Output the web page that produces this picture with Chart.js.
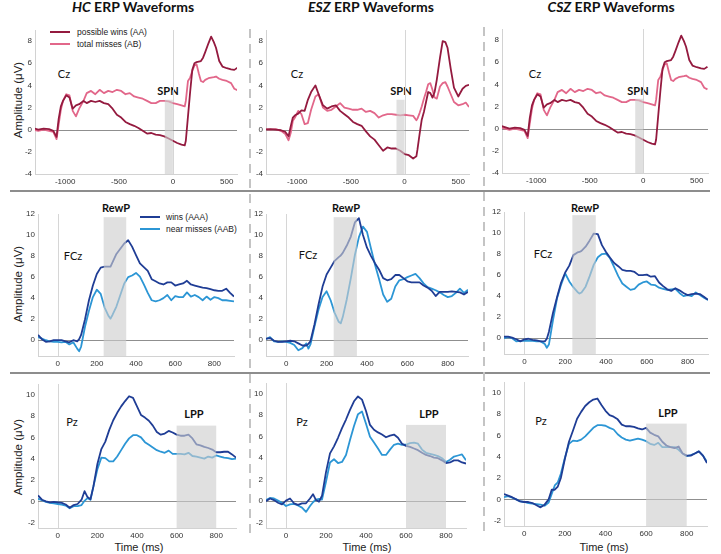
<!DOCTYPE html>
<html>
<head>
<meta charset="utf-8">
<title>ERP Waveforms</title>
<script src="https://cdn.jsdelivr.net/npm/chart.js@4.4.1/dist/chart.umd.min.js"></script>
<style>
  body { margin: 0; background: #fff; }
  #fig { position: relative; width: 721px; height: 554px; overflow: hidden; font-family: "Liberation Sans", Arial, sans-serif; color: #222; }
  #fig canvas { position: absolute; }
  .t { position: absolute; transform: translate(-50%, -50%); white-space: nowrap; }
  .title { font: bold 14px Lato, sans-serif; color: #111; }
  .ann { font: 11px Lato, sans-serif; color: #111; }
  .ylab { font-size: 11.5px; transform: translate(-50%, -50%) rotate(-90deg); }
  .xlab { font-size: 11px; }
  .hsep { position: absolute; left: 10px; width: 700px; height: 2px; background: #8d8d8d; }
  .vsep { position: absolute; width: 2px; background: repeating-linear-gradient(to bottom, #c4c4c4 0 9px, transparent 9px 15px); }
  .legline { position: absolute; width: 20px; height: 2px; }
  .legtxt { position: absolute; font-size: 8.5px; color: #222; transform: translateY(-50%); white-space: nowrap; }
</style>
</head>
<body>
<div id="fig">
  <div class="hsep" style="top:190px"></div>
  <div class="hsep" style="top:372px"></div>
  <div class="vsep" style="left:249px;top:29px;height:505px"></div>
  <div class="vsep" style="left:483px;top:27px;height:507px"></div>

  <div class="t title" style="left:133px;top:6px"><i>HC</i> ERP Waveforms</div>
  <div class="t title" style="left:371px;top:6px"><i>ESZ</i> ERP Waveforms</div>
  <div class="t title" style="left:611px;top:6px"><i>CSZ</i> ERP Waveforms</div>

  <div class="t ylab" style="left:18px;top:100px">Amplitude (μV)</div>
  <div class="t ylab" style="left:18px;top:284px">Amplitude (μV)</div>
  <div class="t ylab" style="left:18px;top:457px">Amplitude (μV)</div>

  <div class="t xlab" style="left:139px;top:547px">Time (ms)</div>
  <div class="t xlab" style="left:367px;top:547px">Time (ms)</div>
  <div class="t xlab" style="left:604px;top:547px">Time (ms)</div>

  <div class="t ann" style="left:64px;top:73px">Cz</div>
  <div class="t ann" style="left:297px;top:73px">Cz</div>
  <div class="t ann" style="left:535px;top:73px">Cz</div>
  <div class="t ann" style="left:168px;top:90px"><b>SPN</b></div>
  <div class="t ann" style="left:401px;top:90px"><b>SPN</b></div>
  <div class="t ann" style="left:638px;top:90px"><b>SPN</b></div>

  <div class="t ann" style="left:73px;top:255px">FCz</div>
  <div class="t ann" style="left:308px;top:254px">FCz</div>
  <div class="t ann" style="left:543px;top:253px">FCz</div>
  <div class="t ann" style="left:116px;top:207px"><b>RewP</b></div>
  <div class="t ann" style="left:346px;top:207px"><b>RewP</b></div>
  <div class="t ann" style="left:585px;top:207px"><b>RewP</b></div>

  <div class="t ann" style="left:72px;top:421px">Pz</div>
  <div class="t ann" style="left:302px;top:421px">Pz</div>
  <div class="t ann" style="left:541px;top:420px">Pz</div>
  <div class="t ann" style="left:194px;top:413px"><b>LPP</b></div>
  <div class="t ann" style="left:429px;top:413px"><b>LPP</b></div>
  <div class="t ann" style="left:668px;top:412px"><b>LPP</b></div>

  <div class="legline" id="lg1" style="left:50px;top:31px"></div>
  <div class="legtxt" style="left:77px;top:32px">possible wins (AA)</div>
  <div class="legline" id="lg2" style="left:50px;top:43px"></div>
  <div class="legtxt" style="left:77px;top:44px">total misses (AB)</div>
  <div class="legline" id="lg3" style="left:140px;top:216px"></div>
  <div class="legtxt" style="left:166px;top:217px">wins (AAA)</div>
  <div class="legline" id="lg4" style="left:140px;top:228px"></div>
  <div class="legtxt" style="left:166px;top:229px">near misses (AAB)</div>
</div>

<script>
// colours of the two conditions
const redWins = '#941a3f', redMisses = '#e2678a';
const blueWins = '#1f3d95', blueMisses = '#2c96d5';

// ---- Cz, anticipation period (ms, µV) ----
const czTime = [-1330, -1250, -1200, -1150, -1110, -1080, -1060, -1040, -1020, -990, -960, -930,
  -900, -870, -830, -800, -760, -720, -680, -640, -600, -560, -520, -480, -440, -400, -360, -320,
  -280, -240, -200, -160, -120, -80, -40, 0, 40, 80, 110, 120, 140, 160, 180, 200, 220, 240, 260, 280,
  300, 330, 355, 380, 400, 430, 460, 500, 540, 570, 600];

const hcCzWins = [0.25, 0.0, 0.1, 0.05, -0.1, -0.65, 1.0, 2.1, 2.6, 3.1, 2.9, 1.9,
  2.2, 2.3, 2.6, 2.4, 2.6, 2.5, 2.6, 2.4, 2.3, 1.9, 1.35, 1.1, 0.7, 0.5, 0.35, 0.15,
  -0.1, -0.35, -0.3, -0.45, -0.5, -0.6, -0.8, -1.0, -1.2, -1.35, -1.42, -1.0, 1.2, 3.4, 5.4, 6.0, 6.1, 6.15, 6.2, 6.5,
  7.0, 7.8, 8.4, 7.9, 7.4, 6.2, 5.7, 5.55, 5.45, 5.4, 5.6];
const hcCzMisses = [0.1, -0.1, 0.0, -0.1, -0.2, -0.85, 0.5, 1.8, 2.6, 3.2, 3.1, 1.7,
  1.2, 1.9, 2.6, 3.3, 3.5, 3.2, 3.6, 3.3, 3.5, 3.4, 3.6, 3.5, 3.2, 3.3, 3.0, 2.9,
  2.8, 2.6, 2.4, 2.4, 2.6, 2.6, 2.55, 2.4, 2.3, 2.2, 2.1, 2.6, 4.4, 4.7, 5.3, 5.8, 5.9, 5.1, 4.4, 4.3,
  4.5, 4.65, 4.7, 4.75, 4.8, 4.6, 4.5, 4.4, 4.2, 3.7, 3.55];

const eszCzWins = [0.0, 0.05, 0.0, -0.05, -0.2, -0.6, 0.3, 1.1, 1.3, 1.45, 1.75, 1.7,
  2.7, 3.4, 4.0, 3.2, 2.2, 1.9, 2.1, 2.2, 1.7, 1.4, 1.1, 0.7, 0.5, 0.35, -0.15, -0.6,
  -0.9, -1.4, -1.9, -1.6, -1.7, -1.7, -1.9, -2.2, -2.3, -2.6, -2.4, -1.8, -0.4, 0.9, 1.6, 2.5, 3.4, 3.3, 2.9, 3.4,
  4.5, 6.5, 8.0, 7.9, 7.4, 5.5, 3.8, 3.0, 3.7, 3.95, 4.05];
const eszCzMisses = [0.05, 0.0, 0.05, -0.1, -0.4, -0.95, -0.3, 0.8, 1.1, 1.7, 1.4, 0.5,
  0.6, 1.8, 3.0, 3.2, 2.0, 1.7, 1.8, 2.1, 2.4, 2.0, 1.9, 1.8, 1.8, 1.9, 1.6, 1.7,
  1.5, 1.1, 1.3, 1.4, 1.4, 1.35, 1.3, 1.35, 1.3, 1.25, 0.85, 1.0, 1.5, 2.1, 2.8, 3.4, 4.1, 4.2, 3.6, 2.9,
  2.8, 3.9, 4.2, 4.3, 3.9, 3.2, 2.5, 2.2, 2.3, 2.45, 2.05];

const cszCzWins = [0.25, 0.0, 0.1, 0.05, -0.1, -0.65, 1.0, 2.1, 2.6, 3.1, 2.9, 1.9,
  2.2, 2.3, 2.6, 2.4, 2.6, 2.5, 2.6, 2.4, 2.3, 1.9, 1.35, 1.1, 0.7, 0.5, 0.35, 0.15,
  -0.1, -0.35, -0.3, -0.45, -0.5, -0.6, -0.8, -1.0, -1.2, -1.35, -1.42, -1.0, 1.2, 3.4, 5.4, 6.0, 6.1, 6.15, 6.2, 6.5,
  7.0, 7.8, 8.4, 7.9, 7.4, 6.2, 5.7, 5.55, 5.45, 5.4, 5.6];
const cszCzMisses = [0.1, -0.1, 0.0, -0.1, -0.2, -0.85, 0.5, 1.8, 2.6, 3.2, 3.1, 1.7,
  1.2, 1.9, 2.6, 3.3, 3.5, 3.2, 3.6, 3.3, 3.5, 3.4, 3.6, 3.5, 3.2, 3.3, 3.0, 2.9,
  2.8, 2.6, 2.4, 2.4, 2.6, 2.6, 2.55, 2.4, 2.3, 2.2, 2.1, 2.6, 4.4, 4.7, 5.3, 5.8, 5.9, 5.1, 4.4, 4.3,
  4.5, 4.65, 4.7, 4.75, 4.8, 4.6, 4.5, 4.4, 4.2, 3.7, 3.55];

// ---- FCz, feedback period ----
const fczTime = [-100, -80, -60, -40, -20, 0, 20, 40, 60, 80, 100, 110, 120, 140, 160, 180,
  200, 220, 240, 260, 270, 280, 300, 320, 340, 360, 380, 400, 420, 440, 460, 480,
  500, 520, 540, 560, 580, 600, 620, 640, 660, 680, 700, 720, 740, 760, 780, 800, 820, 840, 860, 880, 900];

const hcFczWins = [0.5, 0.1, -0.15, -0.1, 0.0, 0.0, 0.0, -0.1, -0.2, 0.0, -0.1, 0.1, 0.5, 2.0, 3.8, 5.2,
  6.3, 6.9, 7.0, 7.0, 7.0, 7.4, 8.2, 8.7, 9.2, 9.5, 8.9, 8.1, 7.3, 6.95, 6.6, 5.8,
  5.6, 5.4, 5.3, 5.5, 5.5, 5.2, 5.3, 5.4, 5.65, 5.3, 5.2, 5.1, 5.0, 4.95, 4.85, 4.75, 4.7, 4.7, 4.9, 4.5, 4.15];
const hcFczMisses = [0.3, 0.15, 0.0, -0.1, -0.15, -0.15, -0.2, -0.15, -0.4, -0.2, -0.8, -1.05, -0.6, 1.3, 2.8, 4.1,
  4.8, 4.4, 3.1, 2.3, 2.05, 2.4, 3.2, 4.3, 5.4, 6.0, 6.15, 6.4, 6.05, 5.3, 4.5, 3.8,
  3.7, 3.8, 4.0, 4.3, 3.8, 4.2, 4.1, 4.1, 4.55, 4.15, 4.3, 4.1, 3.8, 4.15, 3.85, 4.1, 4.0, 3.8, 3.8, 3.75, 3.7];

const eszFczWins = [0.15, 0.2, -0.05, -0.15, -0.15, -0.1, -0.05, -0.1, -0.3, -0.5, -0.5, -0.35, -0.1, 1.5, 3.4, 5.1,
  6.25, 6.9, 7.55, 7.9, 8.05, 8.3, 9.0, 9.85, 11.2, 11.6, 10.0, 8.8, 8.0, 7.3, 6.7, 5.9,
  5.7, 5.8, 6.2, 6.2, 5.9, 5.6, 5.5, 5.5, 5.5, 5.2, 5.0, 4.7, 4.2, 4.6, 4.6, 4.6, 4.65, 4.6, 4.55, 4.35, 4.6];
const eszFczMisses = [0.1, 0.3, -0.1, -0.15, -0.1, -0.15, -0.25, -0.45, -0.95, -0.75, -0.3, -0.8, -0.4, 1.3, 2.9, 4.1,
  4.65, 3.8, 2.6, 1.75, 1.6, 2.2, 3.9, 5.9, 8.1, 9.8, 10.8, 10.3, 8.7, 7.15, 5.8, 4.35,
  3.65, 3.95, 5.1, 5.7, 5.8, 6.0, 6.15, 6.3, 5.9, 5.4, 5.05, 4.9, 4.75, 4.55, 4.3, 4.1, 4.2, 4.5, 4.9, 4.5, 4.8];

const cszFczWins = [0.15, 0.15, 0.05, -0.1, -0.3, -0.1, -0.05, -0.15, -0.2, -0.3, -0.3, -0.05, 0.6, 2.4, 3.9, 5.3,
  6.25, 6.9, 7.9, 8.15, 8.2, 8.3, 8.7, 9.3, 9.95, 9.9, 8.85, 8.2, 7.65, 7.15, 6.85, 6.5,
  6.4, 6.4, 6.3, 6.0, 6.0, 6.05, 5.85, 5.9, 5.3, 4.95, 4.65, 4.5, 4.75, 4.55, 4.3, 4.1, 4.2, 4.25, 4.2, 3.95, 3.65];
const cszFczMisses = [0.0, 0.1, 0.0, -0.3, -0.25, -0.25, -0.25, -0.25, -0.3, -0.3, -0.55, -0.9, -0.6, 1.7, 3.8, 5.1,
  6.15, 5.4, 4.85, 4.4, 4.25, 4.35, 4.9, 5.9, 7.0, 7.7, 8.0, 8.05, 7.6, 6.75, 5.9, 5.2,
  4.9, 4.6, 4.7, 5.1, 5.3, 5.4, 5.1, 5.05, 4.8, 4.7, 4.6, 4.65, 4.7, 4.3, 4.0, 4.1, 4.0, 4.35, 4.1, 3.85, 3.65];

// ---- Pz, feedback period ----
const pzTime = [-100, -80, -60, -40, -20, 0, 20, 40, 60, 80, 100, 120, 135, 150, 165, 180,
  200, 220, 240, 260, 280, 300, 320, 340, 360, 380, 400, 420, 440, 460, 480, 500,
  520, 540, 560, 580, 600, 620, 640, 660, 680, 700, 720, 740, 760, 780, 800, 820, 840, 860, 880, 900];

const hcPzWins = [0.55, 0.15, 0.0, -0.1, -0.05, -0.1, -0.15, -0.3, -0.6, -0.35, -0.25, 0.15, 0.95, 0.4, 0.2, 1.4,
  3.5, 4.9, 5.6, 6.7, 7.6, 8.3, 8.9, 9.4, 9.85, 9.7, 8.9, 8.1, 7.85, 7.55, 7.1, 6.5,
  6.25, 6.35, 6.6, 6.45, 6.25, 6.15, 6.15, 6.25, 5.9, 5.35, 5.25, 5.1, 5.0, 4.85, 4.6, 4.6, 4.65, 4.65, 4.4, 4.1];
const hcPzMisses = [0.25, 0.1, -0.05, -0.15, -0.2, -0.25, -0.3, -0.4, -0.65, -0.45, -0.45, -0.35, 0.05, 0.3, 0.15, 1.4,
  3.0, 4.1, 4.05, 3.75, 3.75, 4.2, 4.8, 5.4, 5.9, 6.2, 6.2, 6.0, 5.55, 5.3, 5.05, 4.8,
  4.65, 4.55, 4.75, 4.45, 4.45, 4.45, 4.4, 4.55, 4.25, 4.2, 4.1, 4.0, 4.2, 4.1, 4.3, 4.2, 4.1, 4.05, 3.95, 4.0];

const eszPzWins = [0.0, 0.25, 0.1, -0.15, -0.3, 0.05, 0.25, -0.2, -0.35, -0.2, -0.2, 0.25, 0.65, 0.1, -0.05, 0.5,
  2.7, 4.45, 5.1, 5.9, 6.8, 7.6, 8.5, 9.3, 9.75, 9.45, 8.4, 7.1, 6.65, 6.4, 6.2, 5.95,
  6.1, 6.2, 5.9, 5.35, 5.15, 5.05, 4.9, 4.75, 4.5, 4.3, 4.2, 4.05, 4.0, 3.8, 3.55, 3.6, 3.8, 3.8, 3.6, 3.5];
const eszPzMisses = [0.1, 0.3, 0.25, 0.05, -0.15, -0.45, -0.3, -0.25, -0.4, -0.6, -1.0, -0.45, -0.1, 0.15, 0.2, 0.15,
  1.8, 3.6, 3.9, 3.55, 3.65, 4.3, 5.7, 7.0, 8.1, 8.35, 7.2, 6.0, 5.45, 4.9, 4.3, 4.3,
  4.8, 5.25, 5.35, 5.25, 5.25, 5.4, 5.45, 5.35, 4.8, 4.5, 4.4, 4.3, 4.2, 4.0, 3.65, 3.85, 4.15, 4.25, 4.35, 3.8];

const cszPzWins = [0.5, 0.35, 0.2, 0.0, -0.2, -0.25, -0.25, -0.35, -0.55, -0.75, -0.5, 0.0, 0.9, 0.9, 1.2, 2.0,
  3.8, 5.4, 6.45, 7.55, 8.2, 8.75, 9.1, 9.35, 9.45, 8.85, 8.3, 7.9, 7.75, 7.5, 7.0, 6.85,
  6.85, 6.8, 6.65, 6.55, 6.7, 6.25, 6.05, 5.9, 5.4, 5.05, 4.9, 4.8, 4.95, 4.3, 4.1, 4.1, 4.3, 4.5, 4.1, 3.4];
const cszPzMisses = [0.2, 0.3, 0.15, 0.0, -0.2, -0.25, -0.35, -0.4, -0.45, -0.5, -0.6, -0.3, 0.5, 1.3, 1.6, 2.4,
  3.9, 5.2, 5.5, 5.45, 5.6, 5.9, 6.3, 6.7, 6.95, 6.95, 6.9, 6.7, 6.55, 6.1, 5.8, 5.6,
  5.5, 5.6, 5.7, 5.6, 5.45, 5.2, 5.1, 5.3, 4.9, 4.9, 4.9, 4.9, 4.65, 4.3, 4.05, 4.15, 4.3, 4.5, 4.1, 3.5];

// tick labels
const czXTicks = [-1000, -500, 0, 500];
const fbXTicks = [0, 200, 400, 600, 800];
const czYTicks = [-4, -2, 0, 2, 4, 6, 8];
const fczYTicks = [0, 2, 4, 6, 8, 10, 12];
const pzYTicks = [-2, 0, 2, 4, 6, 8, 10];

// shaded component windows: [from ms, to ms, top µV]
const spnWindow = [-75, 0, 2.7];
const rewpWindow = [235, 350, 11.7];
const lppWindow = [600, 800, 7.1];

// one entry per panel; area = plot box in page pixels [left, top, right, bottom]
const panels = [
  { area: [35, 30, 237, 174], xr: [-1280, 595], yr: [-4, 9], xt: czXTicks, yt: czYTicks, t: czTime, a: hcCzWins, b: hcCzMisses, c: [redWins, redMisses], box: spnWindow },
  { area: [266, 30, 469, 174], xr: [-1290, 600], yr: [-4, 9], xt: czXTicks, yt: czYTicks, t: czTime, a: eszCzWins, b: eszCzMisses, c: [redWins, redMisses], box: spnWindow },
  { area: [502, 29, 708, 173], xr: [-1320, 605], yr: [-4, 9], xt: czXTicks, yt: czYTicks, t: czTime, a: cszCzWins, b: cszCzMisses, c: [redWins, redMisses], box: spnWindow },
  { area: [38, 214, 234, 356], xr: [-100, 900], yr: [-1.5, 12], xt: fbXTicks, yt: fczYTicks, t: fczTime, a: hcFczWins, b: hcFczMisses, c: [blueWins, blueMisses], box: rewpWindow },
  { area: [266, 214, 468, 356], xr: [-100, 900], yr: [-1.5, 12], xt: fbXTicks, yt: fczYTicks, t: fczTime, a: eszFczWins, b: eszFczMisses, c: [blueWins, blueMisses], box: rewpWindow },
  { area: [504, 212, 708, 354], xr: [-100, 900], yr: [-1.5, 12], xt: fbXTicks, yt: fczYTicks, t: fczTime, a: cszFczWins, b: cszFczMisses, c: [blueWins, blueMisses], box: rewpWindow },
  { area: [38, 384, 236, 528], xr: [-100, 900], yr: [-2.5, 11], xt: fbXTicks, yt: pzYTicks, t: pzTime, a: hcPzWins, b: hcPzMisses, c: [blueWins, blueMisses], box: lppWindow },
  { area: [266, 383, 466, 528], xr: [-100, 900], yr: [-2.5, 11], xt: fbXTicks, yt: pzYTicks, t: pzTime, a: eszPzWins, b: eszPzMisses, c: [blueWins, blueMisses], box: lppWindow },
  { area: [504, 382, 707, 526], xr: [-100, 900], yr: [-2.5, 11], xt: fbXTicks, yt: pzYTicks, t: pzTime, a: cszPzWins, b: cszPzMisses, c: [blueWins, blueMisses], box: lppWindow },
];

// legend swatches
document.getElementById('lg1').style.background = redWins;
document.getElementById('lg2').style.background = redMisses;
document.getElementById('lg3').style.background = blueWins;
document.getElementById('lg4').style.background = blueMisses;

// zero lines under the data, grey window over it
const erpMarks = {
  id: 'erpMarks',
  beforeDatasetsDraw(chart) {
    const { ctx, chartArea: a, scales: { x, y } } = chart;
    ctx.save();
    ctx.lineWidth = 1;
    const x0 = Math.round(x.getPixelForValue(0)) + 0.5;
    ctx.strokeStyle = '#d6d6d6';
    ctx.beginPath(); ctx.moveTo(x0, a.top); ctx.lineTo(x0, a.bottom); ctx.stroke();
    const y0 = Math.round(y.getPixelForValue(0)) + 0.5;
    ctx.strokeStyle = '#8f8f8f';
    ctx.beginPath(); ctx.moveTo(a.left, y0); ctx.lineTo(a.right, y0); ctx.stroke();
    ctx.restore();
  },
  afterDatasetsDraw(chart, args, opts) {
    const { ctx, scales: { x, y } } = chart;
    const [from, to, top] = opts.box;
    const l = x.getPixelForValue(from), r = x.getPixelForValue(to);
    const t = y.getPixelForValue(top), b = y.getPixelForValue(y.min);
    ctx.save();
    ctx.fillStyle = 'rgba(205,205,205,0.62)';
    ctx.fillRect(l, t, r - l, b - t);
    ctx.restore();
  }
};

const padL = 30, padR = 8, padT = 8, padB = 16;
const tickFont = { family: '"Liberation Sans", Arial, sans-serif', size: 8 };
const fig = document.getElementById('fig');

panels.forEach(p => {
  const [l, t, r, b] = p.area;
  const cv = document.createElement('canvas');
  cv.width = r - l + padL + padR;
  cv.height = b - t + padT + padB;
  cv.style.left = (l - padL) + 'px';
  cv.style.top = (t - padT) + 'px';
  fig.appendChild(cv);

  new Chart(cv.getContext('2d'), {
    type: 'line',
    data: {
      datasets: [
        { data: p.t.map((v, i) => ({ x: v, y: p.a[i] })), borderColor: p.c[0], borderWidth: 1.8 },
        { data: p.t.map((v, i) => ({ x: v, y: p.b[i] })), borderColor: p.c[1], borderWidth: 1.8 },
      ],
    },
    options: {
      responsive: false,
      animation: false,
      events: [],
      layout: { padding: { left: 0, right: padR, top: padT, bottom: 0 } },
      elements: { point: { radius: 0 }, line: { tension: 0, borderJoinStyle: 'round' } },
      plugins: {
        legend: { display: false },
        tooltip: { enabled: false },
        erpMarks: { box: p.box },
      },
      scales: {
        x: {
          type: 'linear',
          min: p.xr[0],
          max: p.xr[1],
          afterBuildTicks: s => { s.ticks = p.xt.map(v => ({ value: v })); },
          afterFit: s => { s.height = padB; },
          grid: { display: false, drawTicks: false },
          border: { color: '#d2d2d2' },
          ticks: { font: tickFont, color: '#333', padding: 3, maxRotation: 0, autoSkip: false, callback: v => String(v) },
        },
        y: {
          min: p.yr[0],
          max: p.yr[1],
          afterBuildTicks: s => { s.ticks = p.yt.map(v => ({ value: v })); },
          afterFit: s => { s.width = padL; },
          grid: { display: false, drawTicks: false },
          border: { color: '#d2d2d2' },
          ticks: { font: tickFont, color: '#333', padding: 3, callback: v => String(v) },
        },
      },
    },
    plugins: [erpMarks],
  });
});
</script>
</body>
</html>
